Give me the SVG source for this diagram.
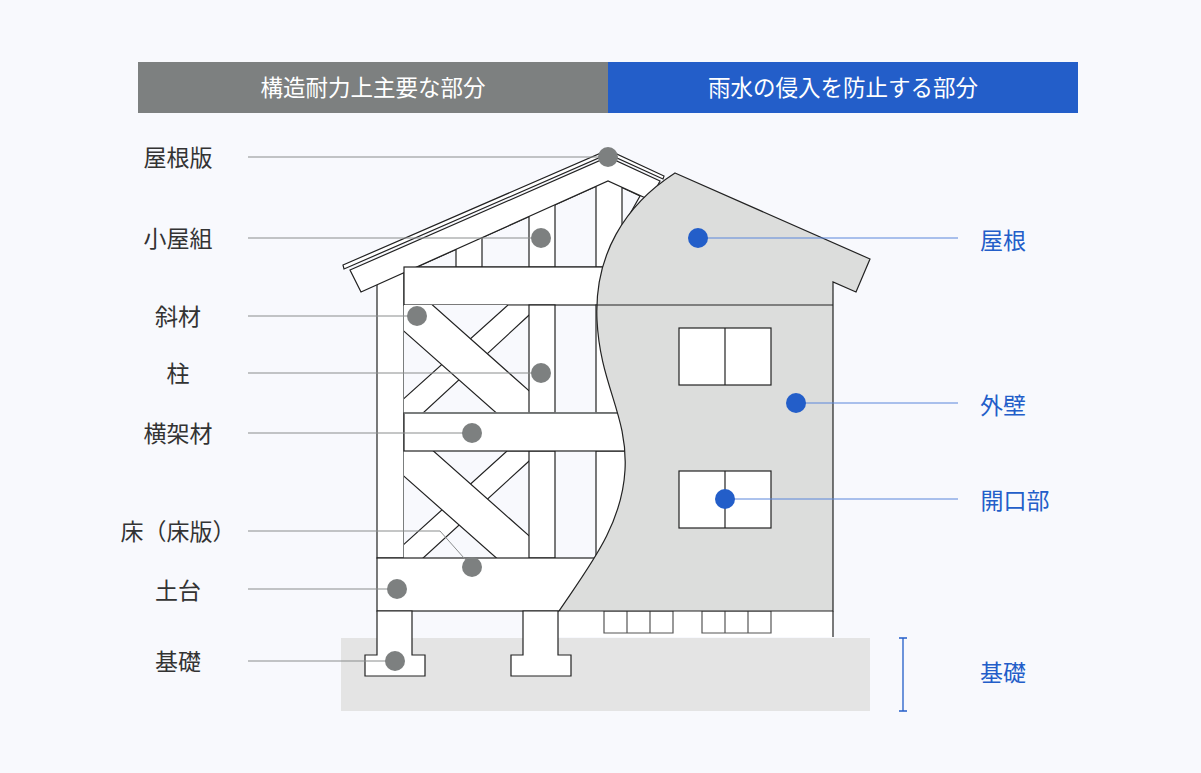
<svg xmlns="http://www.w3.org/2000/svg" width="1201" height="773" viewBox="0 0 1201 773">
<style>
.k{stroke:#222;stroke-width:1.2;fill:#fff}
.g{stroke:#7d8080;stroke-width:1.5}
.lt{font-family:"Noto Sans CJK JP",sans-serif;font-size:23px;fill:#333;text-anchor:middle}
.rt{font-family:"Noto Sans CJK JP",sans-serif;font-size:23px;fill:#235ec9;text-anchor:middle}
.ht{font-family:"Noto Sans CJK JP",sans-serif;font-size:22.5px;fill:#fff;text-anchor:middle}
.gl{stroke:#8a8d8d;stroke-width:1;fill:none}
.bl{stroke:#5b86db;stroke-width:1;fill:none}
.gd{fill:#7d8080}
.bd{fill:#235ec9}
</style>
<defs>
<clipPath id="p1"><rect x="404" y="305" width="125" height="108"/></clipPath>
<clipPath id="p2"><rect x="404" y="451" width="125" height="107"/></clipPath>
</defs>
<rect width="1201" height="773" fill="#f8f9fd"/>
<g id="header">
<rect x="138" y="62" width="470" height="51" fill="#7d8080"/>
<rect x="608" y="62" width="470" height="51" fill="#235ec9"/>
<text class="ht" x="373" y="96">構造耐力上主要な部分</text>
<text class="ht" x="843" y="96">雨水の侵入を防止する部分</text>
</g>
<g id="ground"><rect x="341" y="638" width="529" height="73" fill="#e4e4e4"/></g>
<g id="frame">
<polygon points="417,267 608,181 640,196 600,267" fill="#f8f9fd" stroke="#222" stroke-width="1.2"/>
<rect class="k" x="456" y="230" width="26" height="37"/>
<rect class="k" x="529" y="196" width="26" height="71"/>
<rect class="k" x="596" y="176" width="26" height="91"/>
<rect class="k" x="377" y="270" width="27" height="288"/>
<line x1="404" y1="282" x2="404" y2="558" class="g"/>
<polygon class="k" points="343,265 608,150 664,176 663,179 608,154 344,269"/>
<polygon class="k" points="350,270 608,157 660,181 650,200 608,181 361,292"/>
<rect class="k" x="404" y="267" width="200" height="38"/>
<rect x="404" y="305" width="125" height="108" fill="#f8f9fd"/>
<rect x="404" y="451" width="125" height="107" fill="#f8f9fd"/>
<g clip-path="url(#p1)">
<polygon class="k" points="380,420 508,305 540,305 410,425"/>
<polygon class="k" points="410,285 545,405 510,425 380,310"/>
</g>
<g clip-path="url(#p2)">
<polygon class="k" points="380,566 507,451 540,451 410,570"/>
<polygon class="k" points="412,432 545,550 510,570 380,455"/>
</g>
<rect class="k" x="529" y="305" width="26" height="108"/>
<rect class="k" x="529" y="451" width="26" height="107"/>
<rect class="k" x="596" y="305" width="30" height="108"/>
<rect class="k" x="596" y="451" width="30" height="107"/>
<rect class="k" x="404" y="413" width="222" height="38"/>
<line x1="404" y1="413" x2="626" y2="413" class="g"/>
<rect class="k" x="377" y="558" width="230" height="53"/>
<polygon class="k" points="377,611 412,611 412,655 425,655 425,676 365,676 365,655 377,655"/>
<polygon class="k" points="523,611 558,611 558,655 571,655 571,676 511,676 511,655 523,655"/>
<rect x="559" y="611" width="274" height="26" style="fill:#fff;stroke:none"/>
<line x1="833" y1="611" x2="833" y2="637" stroke="#222" stroke-width="1.2"/>
<path d="M604,611h69v22h-69zM627,611v22M650,611v22M702,611h69v22h-69zM725,611v22M748,611v22" fill="#fff" stroke="#555" stroke-width="1.2"/>
</g>
<g id="wall">
<path d="M675,173 L870,259 L856,292 L833,282 L833,611 L559,611 C590,565 622,525 625,470 C628,415 600,385 597,320 C594,255 625,205 675,173 Z" fill="#dcdddc" stroke="#222" stroke-width="1.2"/>
<line x1="597" y1="305" x2="833" y2="305" stroke="#222" stroke-width="1.2"/>
<rect class="k" x="679" y="328" width="92" height="57"/>
<line x1="725" y1="328" x2="725" y2="385" stroke="#222" stroke-width="1.2"/>
<rect class="k" x="679" y="471" width="92" height="57"/>
<line x1="725" y1="471" x2="725" y2="528" stroke="#222" stroke-width="1.2"/>
</g>
<g id="connectors">
<path class="gl" d="M248,157H608M248,238H541M248,316H417M248,373H541M248,433H472M248,531H440L472,567M248,589H397M248,661H395"/>
<path class="bl" d="M698,238H958M796,403H958M725,499H958"/>
<path d="M903,638V711M899,638H907M899,711H907" stroke="#235ec9" stroke-width="1.3"/>
</g>
<g id="dots">
<circle class="gd" cx="608" cy="157" r="10"/>
<circle class="gd" cx="541" cy="238" r="10"/>
<circle class="gd" cx="417" cy="316" r="10"/>
<circle class="gd" cx="541" cy="373" r="10"/>
<circle class="gd" cx="472" cy="433" r="10"/>
<circle class="gd" cx="472" cy="567" r="10"/>
<circle class="gd" cx="397" cy="589" r="10"/>
<circle class="gd" cx="395" cy="661" r="10"/>
<circle class="bd" cx="698" cy="238" r="10"/>
<circle class="bd" cx="796" cy="403" r="10"/>
<circle class="bd" cx="725" cy="499" r="10"/>
</g>
<g id="labels">
<text class="lt" x="178" y="166">屋根版</text>
<text class="lt" x="178" y="247">小屋組</text>
<text class="lt" x="178" y="325">斜材</text>
<text class="lt" x="178" y="382">柱</text>
<text class="lt" x="178" y="442">横架材</text>
<text class="lt" x="178" y="540">床（床版）</text>
<text class="lt" x="178" y="599">土台</text>
<text class="lt" x="178" y="670">基礎</text>
<text class="rt" x="1003" y="249">屋根</text>
<text class="rt" x="1003" y="414">外壁</text>
<text class="rt" x="1015" y="509">開口部</text>
<text class="rt" x="1003" y="681">基礎</text>
</g>
</svg>
